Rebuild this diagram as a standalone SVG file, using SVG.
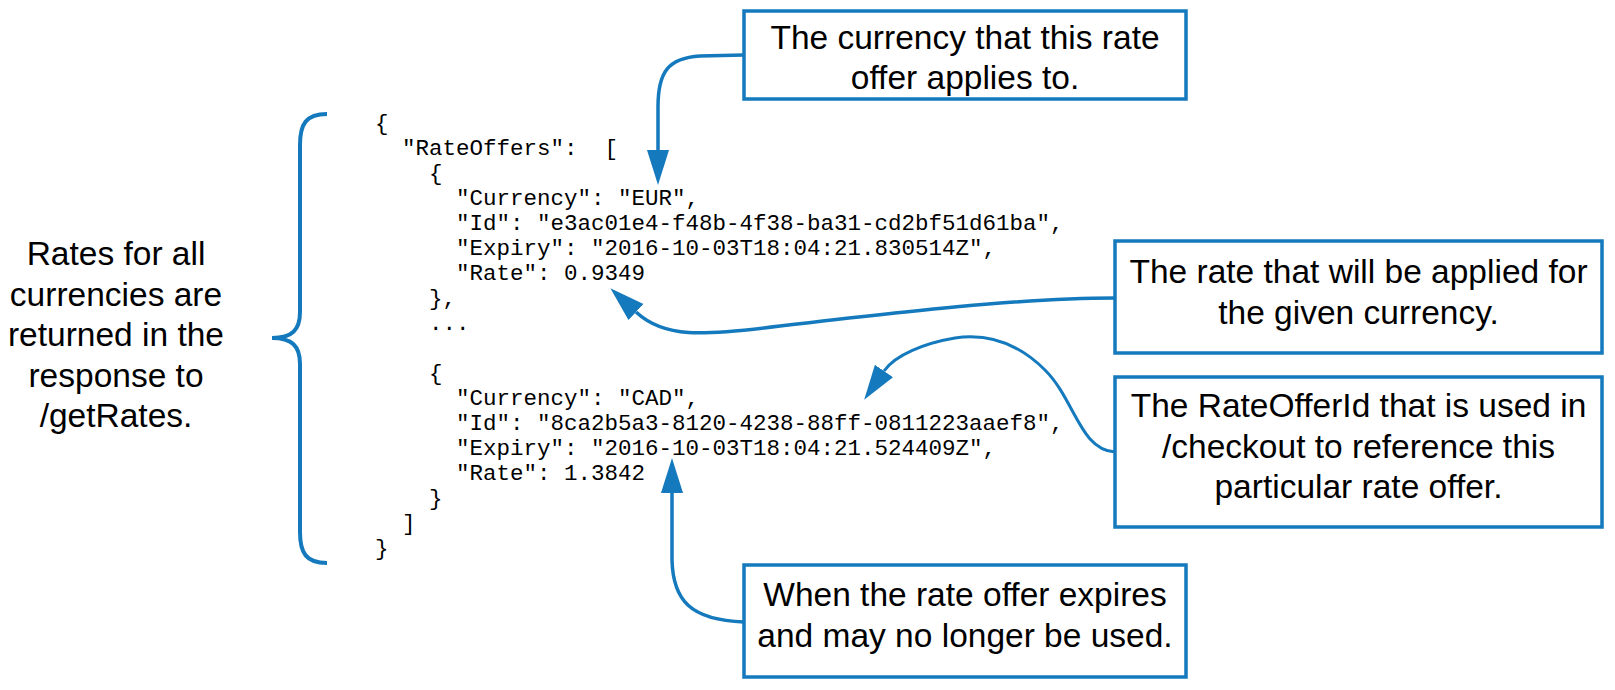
<svg xmlns="http://www.w3.org/2000/svg" width="1615" height="690" viewBox="0 0 1615 690">
<style>
.box{fill:#fff;stroke:#1479bd;stroke-width:3.5}
.lbl{font-family:"Liberation Sans",Arial,sans-serif;font-size:33.5px;fill:#000;text-anchor:middle}
.mono{font-family:"Liberation Mono","Courier New",monospace;font-size:22.5px;fill:#000;white-space:pre}
.con{fill:none;stroke:#1479bd;stroke-width:3.5;marker-end:url(#ah)}
.brace{fill:none;stroke:#1479bd;stroke-width:4}
</style>
<defs>
<marker id="ah" markerUnits="userSpaceOnUse" viewBox="0 -12 36 24" refX="0" refY="0" markerWidth="36" markerHeight="24" orient="auto">
<path d="M0,-11 L35,0 L0,11 z" fill="#1479bd"/>
</marker>
</defs>
<rect width="1615" height="690" fill="#fff"/>

<g id="summary">
<text class="lbl" x="116" y="265">Rates for all</text>
<text class="lbl" x="116" y="305.5">currencies are</text>
<text class="lbl" x="116" y="346">returned in the</text>
<text class="lbl" x="116" y="386.5">response to</text>
<text class="lbl" x="116" y="427">/getRates.</text>
</g>

<g id="brace">
<path class="brace" d="M327 114 C306 114 300 124 300 145 L300 312 C300 330 292 338 272 338 C292 338 300 346 300 364 L300 532 C300 553 306 563 327 563"/>
</g>

<g id="json">
<text class="mono" x="375" y="130">{</text>
<text class="mono" x="402" y="155">"RateOffers":  [</text>
<text class="mono" x="429" y="180">{</text>
<text class="mono" x="456" y="205">"Currency": "EUR",</text>
<text class="mono" x="456" y="230">"Id": "e3ac01e4-f48b-4f38-ba31-cd2bf51d61ba",</text>
<text class="mono" x="456" y="255">"Expiry": "2016-10-03T18:04:21.830514Z",</text>
<text class="mono" x="456" y="280">"Rate": 0.9349</text>
<text class="mono" x="429" y="305">},</text>
<text class="mono" x="429" y="330">...</text>
<text class="mono" x="429" y="380">{</text>
<text class="mono" x="456" y="405">"Currency": "CAD",</text>
<text class="mono" x="456" y="430">"Id": "8ca2b5a3-8120-4238-88ff-0811223aaef8",</text>
<text class="mono" x="456" y="455">"Expiry": "2016-10-03T18:04:21.524409Z",</text>
<text class="mono" x="456" y="480">"Rate": 1.3842</text>
<text class="mono" x="429" y="505">}</text>
<text class="mono" x="402" y="530">]</text>
<text class="mono" x="375" y="555">}</text>
</g>

<g id="connectors">
<path class="con" d="M744 55 L700 56 C668 58 658 72 658 107 L658 150"/>
<path class="con" d="M1115 298 C1020 298 900 312 780 326 C700 336 664 338 636 312"/>
<path class="con" style="stroke-width:3" d="M1115 452 C1080 450 1075 400 1045 370 C1020 345 990 333 955 338 C925 343 895 355 884 371"/>
<path class="con" d="M744 622 C690 620 673 600 672 560 L672 493"/>
</g>

<g id="box-currency">
<rect class="box" x="744" y="11" width="442" height="88"/>
<text class="lbl" x="965" y="49">The currency that this rate</text>
<text class="lbl" x="965" y="89">offer applies to.</text>
</g>

<g id="box-rate">
<rect class="box" x="1115" y="241" width="487" height="112"/>
<text class="lbl" x="1358.5" y="283">The rate that will be applied for</text>
<text class="lbl" x="1358.5" y="323.5">the given currency.</text>
</g>

<g id="box-id">
<rect class="box" x="1115" y="377" width="487" height="150"/>
<text class="lbl" x="1358.5" y="417">The RateOfferId that is used in</text>
<text class="lbl" x="1358.5" y="458">/checkout to reference this</text>
<text class="lbl" x="1358.5" y="498">particular rate offer.</text>
</g>

<g id="box-expiry">
<rect class="box" x="744" y="565" width="442" height="112"/>
<text class="lbl" x="965" y="606">When the rate offer expires</text>
<text class="lbl" x="965" y="647">and may no longer be used.</text>
</g>
</svg>
